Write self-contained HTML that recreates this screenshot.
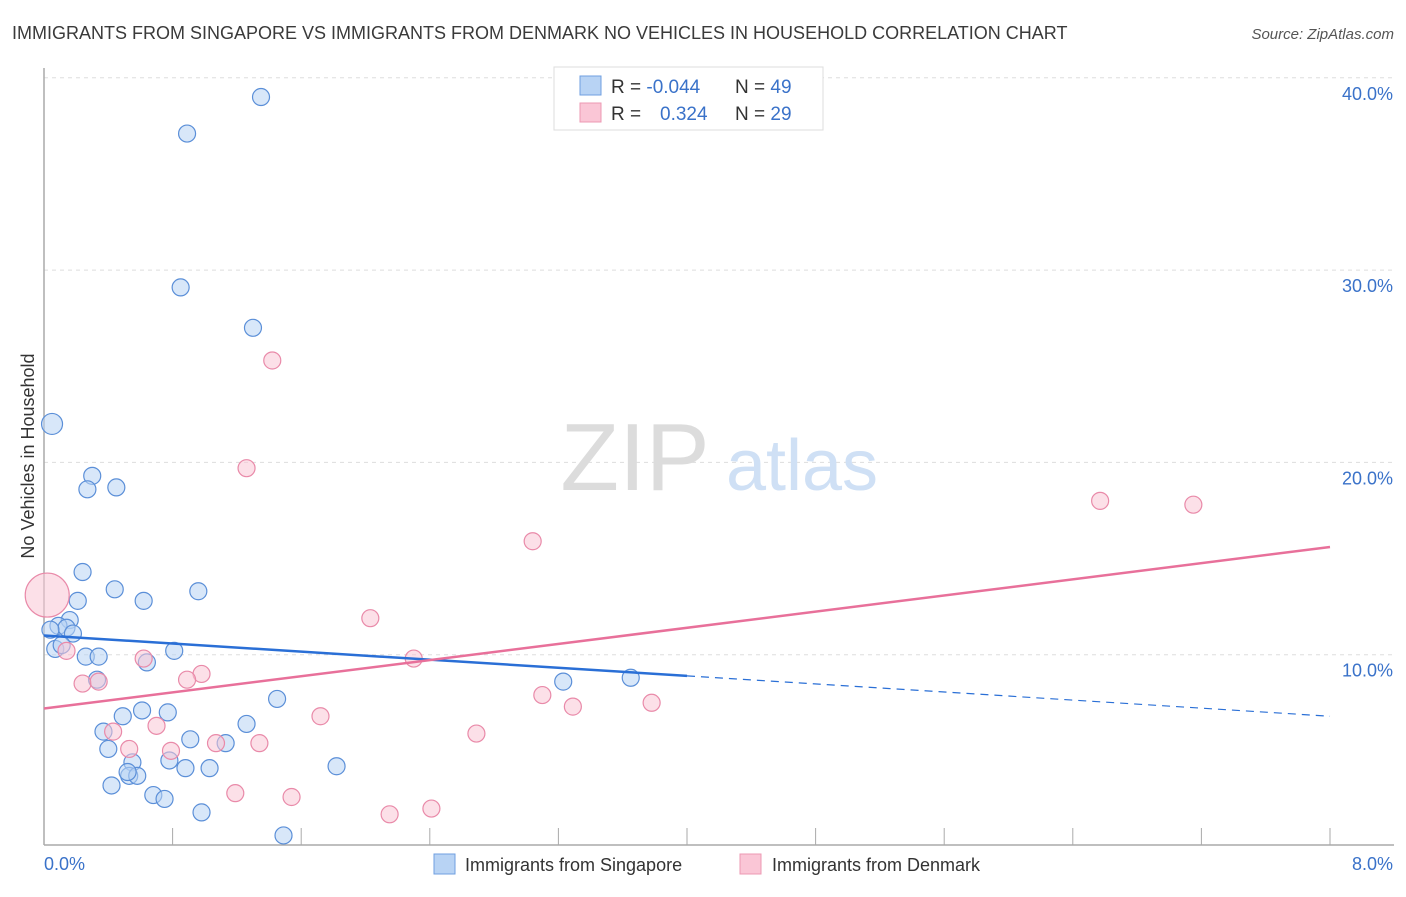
<!DOCTYPE html>
<html><head><meta charset="utf-8">
<style>
body{margin:0;background:#fff;font-family:"Liberation Sans",sans-serif;}
svg text{font-family:"Liberation Sans",sans-serif;}
</style></head>
<body>
<svg id="chart" width="1406" height="892" xmlns="http://www.w3.org/2000/svg">
<text x="12" y="39" font-size="18" fill="#3a3a3a">IMMIGRANTS FROM SINGAPORE VS IMMIGRANTS FROM DENMARK NO VEHICLES IN HOUSEHOLD CORRELATION CHART</text>
<text x="1394" y="39" font-size="15" fill="#555" font-style="italic" text-anchor="end">Source: ZipAtlas.com</text>
<g id="grid"></g>
<g>
<text x="635" y="490" font-size="96" fill="#dcdcdc" font-family="Liberation Serif" text-anchor="middle">ZIP</text>
<text x="802" y="490" font-size="72" fill="#cfe0f5" text-anchor="middle">atlas</text>
</g>
<line x1="44" y1="68" x2="44" y2="845" stroke="#aaa" stroke-width="1.5"/>
<line x1="44" y1="845" x2="1394" y2="845" stroke="#aaa" stroke-width="1.5"/>
<g id="xticks"></g>
<g id="ylabels"></g>
<text transform="translate(34,456) rotate(-90)" font-size="18" fill="#333" text-anchor="middle">No Vehicles in Household</text>
<text x="44" y="870" font-size="18" fill="#3a72c9">0.0%</text>
<text x="1393" y="870" font-size="18" fill="#3a72c9" text-anchor="end">8.0%</text>
<g id="pts"></g>
<g id="trends"></g>
<g>
<rect x="554" y="67" width="269" height="63" fill="#fff" stroke="#ddd"/>
<rect x="580" y="76" width="21" height="19" fill="#b8d3f4" stroke="#6f9fe0"/>
<rect x="580" y="103" width="21" height="19" fill="#fac6d6" stroke="#ec98b3"/>
<text x="611" y="93" font-size="19" fill="#333">R = <tspan fill="#3a72c9">-0.044</tspan></text>
<text x="735" y="93" font-size="19" fill="#333">N = <tspan fill="#3a72c9">49</tspan></text>
<text x="611" y="120" font-size="19" fill="#333">R = <tspan fill="#3a72c9" x="660">0.324</tspan></text>
<text x="735" y="120" font-size="19" fill="#333">N = <tspan fill="#3a72c9">29</tspan></text>
</g>
<g>
<rect x="434" y="854" width="21" height="20" fill="#b8d3f4" stroke="#6f9fe0"/>
<text x="465" y="871" font-size="18" fill="#333">Immigrants from Singapore</text>
<rect x="740" y="854" width="21" height="20" fill="#fac6d6" stroke="#ec98b3"/>
<text x="772" y="871" font-size="18" fill="#333">Immigrants from Denmark</text>
</g>
</svg>
<script>
const yTicks=[10,20,30,40];
const yTickLabels=["10.0%","20.0%","30.0%","40.0%"];
const xTicks=[0.8,1.6,2.4,3.2,4.0,4.8,5.6,6.4,7.2,8.0];
const sgX=[1.35,0.89,0.85,1.30,0.05,0.30,0.27,0.45,0.24,0.44,0.21,0.62,0.96,0.16,0.09,0.14,0.18,0.04,0.07,0.11,0.81,0.26,0.34,0.64,0.33,1.45,3.23,3.65,0.49,0.61,0.77,1.26,0.37,0.91,1.13,0.40,0.55,0.78,0.53,0.58,0.88,1.03,1.82,0.42,0.68,0.75,0.98,1.49,0.52];
const sgY=[39.0,37.1,29.1,27.0,22.0,19.3,18.6,18.7,14.3,13.4,12.8,12.8,13.3,11.8,11.5,11.4,11.1,11.3,10.3,10.5,10.2,9.9,9.9,9.6,8.7,7.7,8.6,8.8,6.8,7.1,7.0,6.4,6.0,5.6,5.4,5.1,4.4,4.5,3.7,3.7,4.1,4.1,4.2,3.2,2.7,2.5,1.8,0.6,3.9];
const dkX=[0.02,1.42,1.26,3.04,6.57,7.15,2.03,2.30,0.14,0.62,0.98,0.89,0.24,0.34,3.10,3.29,3.78,1.72,0.70,0.43,2.69,0.53,0.79,1.07,1.34,1.19,1.54,2.15,2.41];
const dkY=[13.1,25.3,19.7,15.9,18.0,17.8,11.9,9.8,10.2,9.8,9.0,8.7,8.5,8.6,7.9,7.3,7.5,6.8,6.3,6.0,5.9,5.1,5.0,5.4,5.4,2.8,2.6,1.7,2.0];
const sgTrend=[11.0,6.8]; // at x=0 and x=8
const sgSolidEnd=4.0;
const dkTrend=[7.2,15.6];
const NS='http://www.w3.org/2000/svg';
const X=v=>44+v*160.75, Y=v=>847-v*19.23;
function mk(tag,attrs,parent){const e=document.createElementNS(NS,tag);for(const k in attrs)e.setAttribute(k,attrs[k]);parent.appendChild(e);return e;}
const grid=document.getElementById('grid'), yl=document.getElementById('ylabels'), xt=document.getElementById('xticks');
yTicks.forEach((t,i)=>{
 const l=mk('line',{x1:44,x2:1394,y1:Y(t),y2:Y(t),stroke:'#ddd','stroke-dasharray':'4,4'},grid);
 
 
 const tx=mk('text',{x:1393,y:Y(t)+22,'font-size':18,fill:'#3a72c9','text-anchor':'end'},yl);
 tx.textContent=yTickLabels[i];
 
 
});
xTicks.forEach(t=>{
 const l=mk('line',{x1:X(t),x2:X(t),y1:828,y2:845,stroke:'#aaa'},xt);
 
 
});
const pts=document.getElementById('pts');
function dots(xs,ys,fill,stroke,name,bigIdx,bigR){
 xs.forEach((x,i)=>{
  const c=mk('circle',{cx:X(x),cy:Y(ys[i]),r:i===bigIdx?bigR:8.5,fill:fill,'fill-opacity':0.55,stroke:stroke,'stroke-width':1.2},pts);
  
  
 });
}
dots(sgX,sgY,'#b8d3f4','#5b8fd8','point-singapore',4,10.5);
dots(dkX,dkY,'#fac6d6','#e98aa9','point-denmark',0,22);
const tr=document.getElementById('trends');
const sgInterp=x=>sgTrend[0]+(sgTrend[1]-sgTrend[0])*x/8;
let l1=mk('line',{x1:X(0),y1:Y(sgTrend[0]),x2:X(sgSolidEnd),y2:Y(sgInterp(sgSolidEnd)),stroke:'#2a6fd6','stroke-width':2.5},tr);


let l2=mk('line',{x1:X(sgSolidEnd),y1:Y(sgInterp(sgSolidEnd)),x2:X(8),y2:Y(sgTrend[1]),stroke:'#2a6fd6','stroke-width':1.2,'stroke-dasharray':'8,6'},tr);


let l3=mk('line',{x1:X(0),y1:Y(dkTrend[0]),x2:X(8),y2:Y(dkTrend[1]),stroke:'#e8709a','stroke-width':2.5},tr);


</script>
</body></html>
